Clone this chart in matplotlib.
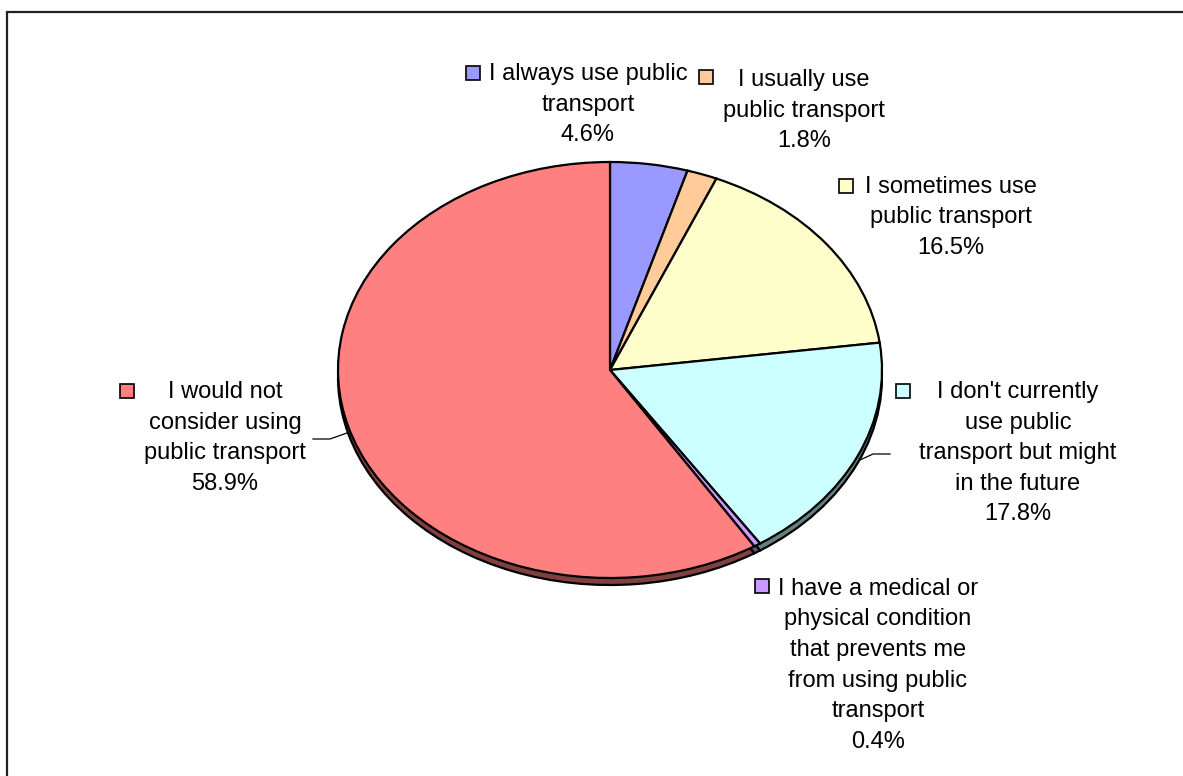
import matplotlib
matplotlib.use("Agg")
import matplotlib.pyplot as plt
from matplotlib.colors import to_rgb

plt.rcParams['font.family'] = ['Liberation Sans', 'DejaVu Sans']

# survey answers, clockwise from 12 o'clock
labels = [
    "I always use public\ntransport",
    "I usually use\npublic transport",
    "I sometimes use\npublic transport",
    "I don't currently\nuse public\ntransport but might\nin the future",
    "I have a medical or\nphysical condition\nthat prevents me\nfrom using public\ntransport",
    "I would not\nconsider using\npublic transport",
]
values = [4.6, 1.8, 16.5, 17.8, 0.4, 58.9]
colors = ["#9999FF", "#FFCC99", "#FFFFCC", "#CCFFFF", "#CC99FF", "#FF8080"]

# label layout in pixels: text centre x, first line centre y, marker centre
text_pos = [(588, 72), (804, 78), (951, 185), (1018, 390), (878, 587), (225, 390)]
marker_pos = [(473, 73), (706, 77), (846, 186), (903, 391), (762, 586), (127, 391)]

W, H = 1183, 776
fig = plt.figure(figsize=(W / 100, H / 100), dpi=100)
fig.patch.set_facecolor("white")

# pie axes: ellipse 338..882 x 162..578 px, plus a few px of depth below
depth = 7 / 208
left, right, top, bottom = 338, 882, 162, 578 + 10
pax = fig.add_axes([left / W, 1 - bottom / H, (right - left) / W, (bottom - top) / H])

side_colors = [tuple(c * 0.5 for c in to_rgb(col)) for col in colors]
pax.pie(values, colors=side_colors, startangle=90, counterclock=False,
        center=(0, -depth), radius=1,
        wedgeprops=dict(edgecolor="black", linewidth=1.6))
pax.pie(values, colors=colors, startangle=90, counterclock=False,
        center=(0, 0), radius=1,
        wedgeprops=dict(edgecolor="black", linewidth=1.6))
pax.set_aspect("auto")
pax.set_xlim(-1, 1)
pax.set_ylim(-1 - 10 / 208, 1)
pax.axis("off")

# overlay in pixel coordinates for labels, leaders and frame
ax = fig.add_axes([0, 0, 1, 1], facecolor="none")
ax.set_xlim(0, W)
ax.set_ylim(H, 0)
ax.axis("off")

for lab, v, col, (tx, ty), (mx, my) in zip(labels, values, colors, text_pos, marker_pos):
    ax.text(tx, ty - 9, f"{lab}\n{v:.1f}%", ha="center", va="top",
            fontsize=17, linespacing=1.5, color="black")
    ax.plot(mx, my, marker="s", markersize=10, markerfacecolor=col,
            markeredgecolor="black", markeredgewidth=1.2)

# leader lines
ax.plot([313, 330, 347], [439, 439, 433], color="black", lw=0.9)
ax.plot([890, 873, 860], [454, 454, 460], color="black", lw=0.9)

# chart frame
ax.plot([7.5, 7.5, W + 5], [H + 5, 11.5, 11.5], color="#222222", lw=1.6,
        solid_joinstyle="miter")

fig.savefig("out.png", dpi=100, facecolor="white")
